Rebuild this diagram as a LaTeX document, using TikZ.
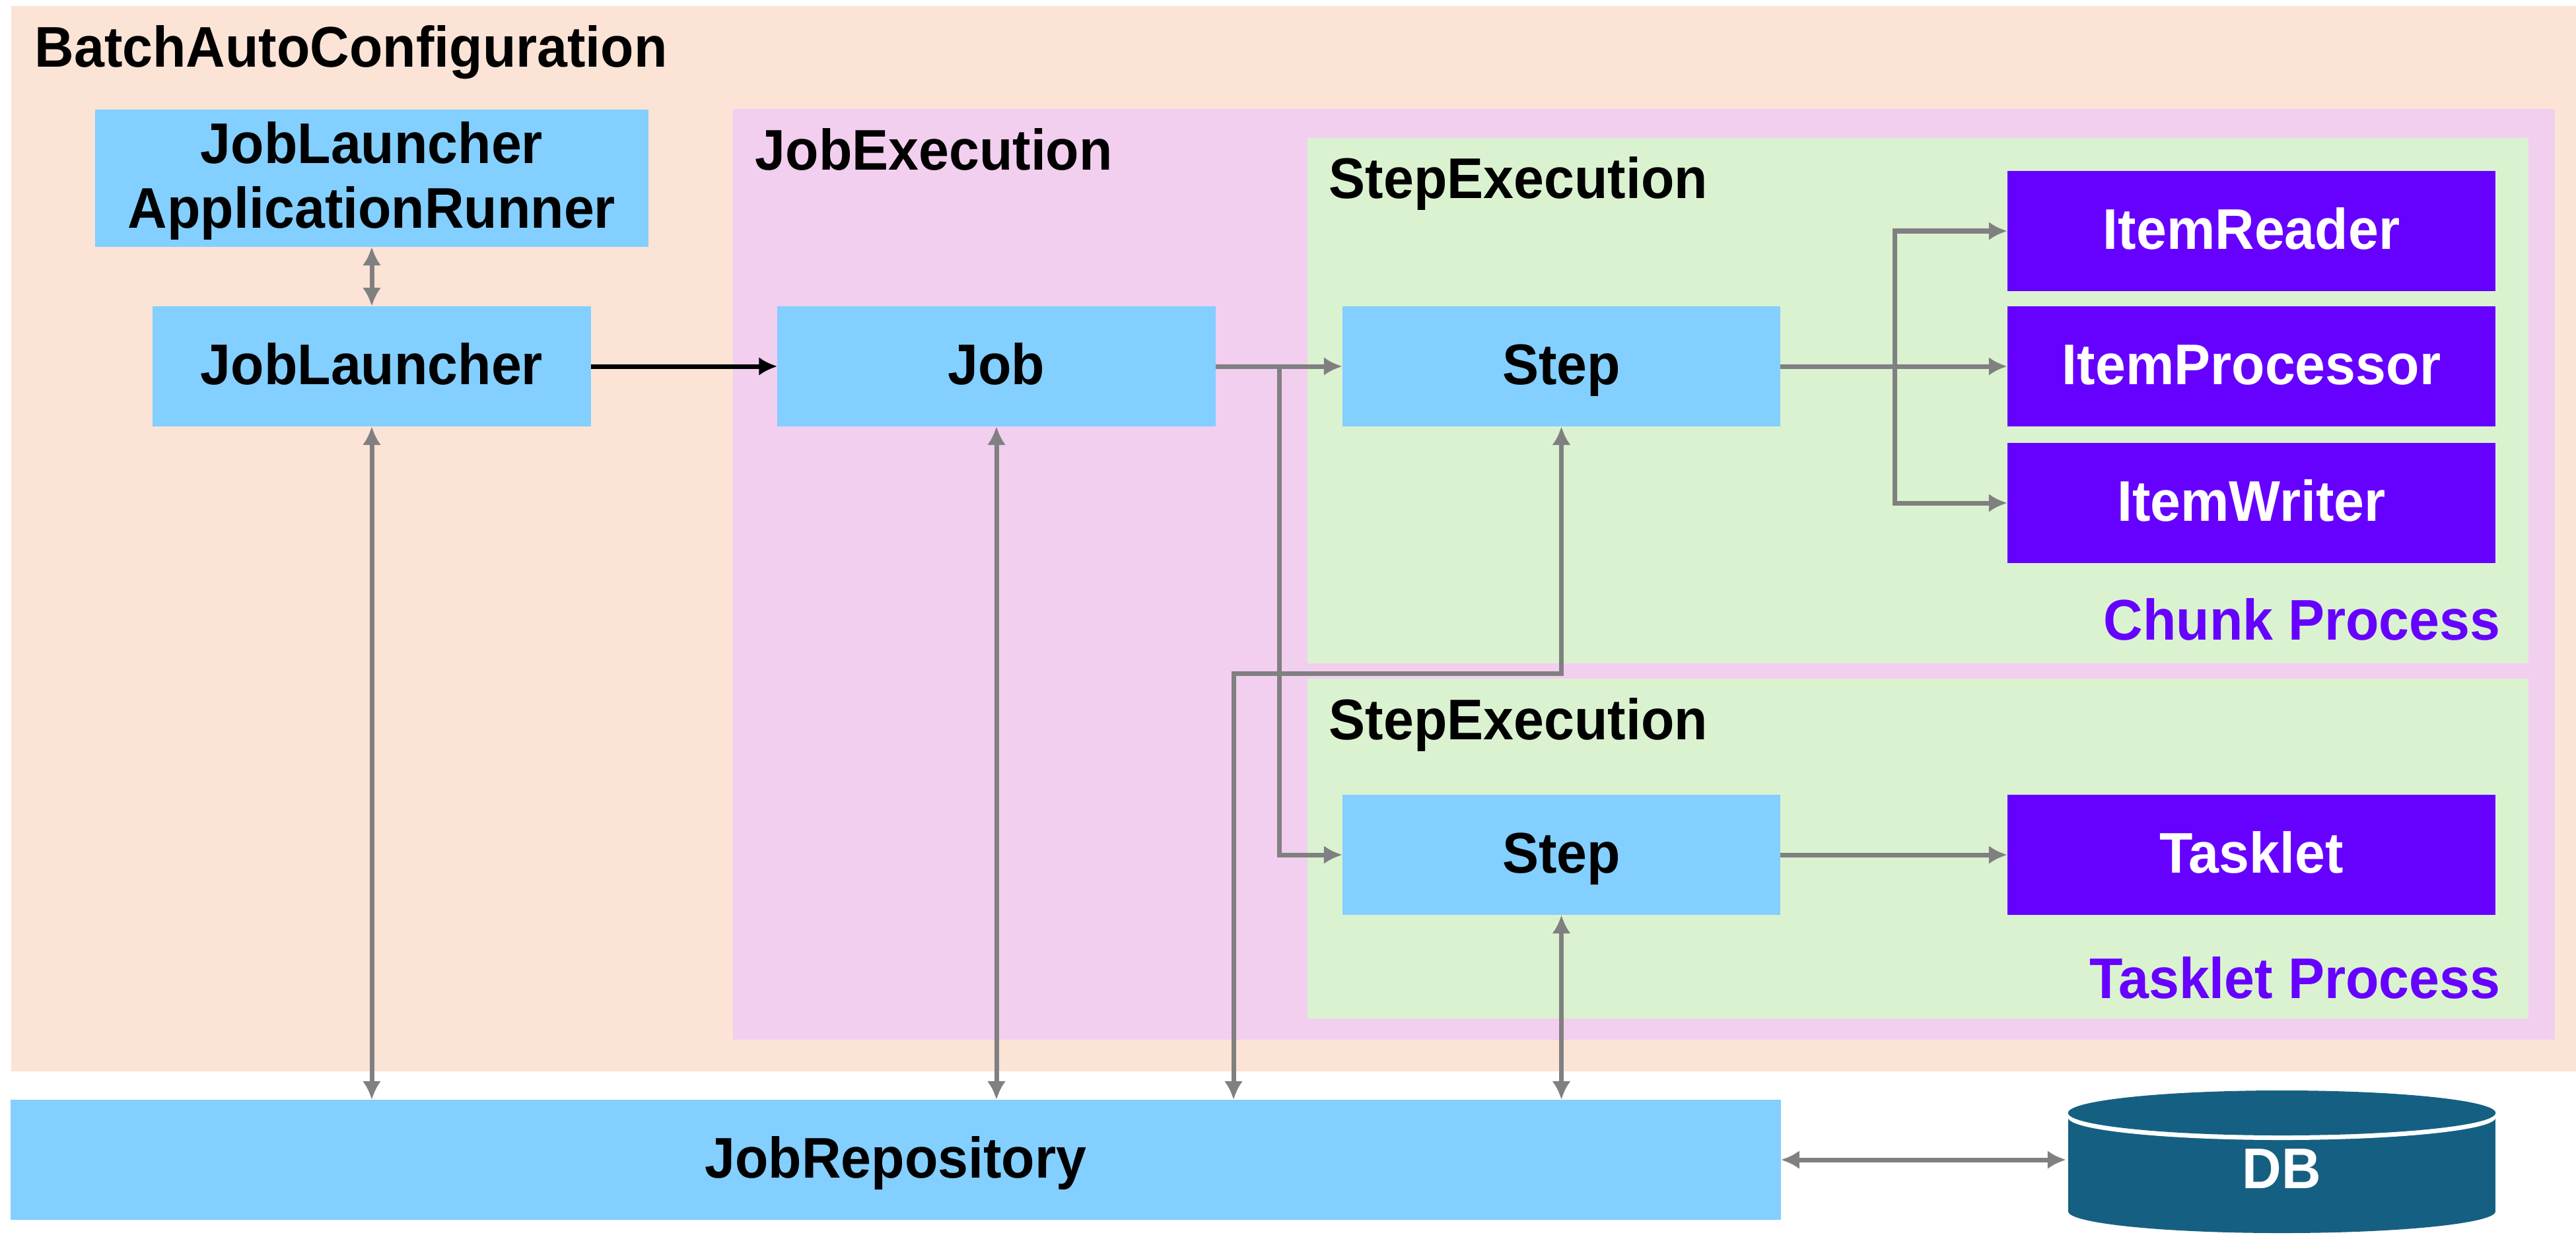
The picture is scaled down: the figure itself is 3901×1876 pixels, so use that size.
\documentclass[tikz,border=0pt]{standalone}
\usepackage{xcolor}
\usepackage{fontspec}
\setmainfont[FakeStretch=0.95]{Liberation Sans}
\usetikzlibrary{arrows.meta, calc}
\definecolor{peachbg}{HTML}{FBE3D6}
\definecolor{pinkbg}{HTML}{F2CEEF}
\definecolor{greenbg}{HTML}{DAF2D0}
\definecolor{boxblue}{HTML}{83CFFF}
\definecolor{boxviolet}{HTML}{6600FF}
\definecolor{dbteal}{HTML}{156082}
\tikzset{
    heading/.style={anchor=base west, inner sep=0pt},
    procname/.style={anchor=base east, inner sep=0pt, text=boxviolet},
    oneline/.style={text height=0.75cm, text depth=0.21cm},
    bluebox/.style={fill=boxblue, inner sep=0pt, outer sep=0pt, minimum width=6.63cm, minimum height=1.82cm, align=center},
    itembox/.style={fill=boxviolet, text=white, inner sep=0pt, outer sep=0pt, minimum width=7.39cm, minimum height=1.82cm, oneline},
    link/.style={draw=gray, line width=0.07cm},
}
\begin{document}
\begin{tikzpicture}[
    x=0.01cm, y=-0.01cm,
    >={Latex[width=2.8mm,length=2.8mm]},
    every node/.style={font=\fontsize{24.7}{28}\selectfont\bfseries},
]
\useasboundingbox (0,0) rectangle (3901,1876);
% nested backgrounds, outer to inner
\fill[peachbg] (17,9) rectangle (3901,1623);
\fill[pinkbg] (1110,165) rectangle (3869,1575);
\fill[greenbg] (1980,209) rectangle (3829,1005);
\fill[greenbg] (1980,1028) rectangle (3829,1543);
\node[heading] (autoconf) at (52,102) {BatchAutoConfiguration};
\node[heading] (jobexec) at (1143,258) {JobExecution};
\node[heading] (execone) at (2012,301) {StepExecution};
\node[heading] (exectwo) at (2012,1120) {StepExecution};
\node[procname] (chunk) at (3787,969) {Chunk Process};
\node[procname] (taskproc) at (3787,1512) {Tasklet Process};
% blue boxes
\node[bluebox, minimum width=8.38cm, minimum height=2.08cm, text depth=0.1cm] (runner) at (563,270) {JobLauncher\\ApplicationRunner};
\node[bluebox, oneline] (launcher) at (563,555) {JobLauncher};
\node[bluebox, oneline] (job) at (1509,555) {Job};
\node[bluebox, oneline] (stepone) at (2364.5,555) {Step};
\node[bluebox, oneline] (steptwo) at (2364.5,1295) {Step};
\node[bluebox, oneline, minimum width=26.79cm] (repo) at (1356.5,1757) {JobRepository};
% violet boxes
\foreach \nm/\yy/\txt in {reader/350/ItemReader,processor/555/ItemProcessor,writer/762/ItemWriter,tasklet/1295/Tasklet}{
    \node[itembox] (\nm) at (3409.5,\yy) {\txt};
}
% database drum
\fill[dbteal] (3132,1693) rectangle (3779,1835);
\fill[dbteal] (3455.5,1835) ellipse (3.235cm and 0.33cm);
\fill[white] (3455.5,1693) ellipse (3.235cm and 0.34cm);
\fill[dbteal] (3455.5,1686) ellipse (3.235cm and 0.34cm);
\node[inner sep=0pt, outer sep=0pt, minimum width=6.53cm, minimum height=1cm] (db) at (3455.5,1757) {};
\node[text=white] (dblabel) at (3455.5,1771) {DB};
% connectors
\draw[->, line width=0.07cm] (launcher) -- (job);
\draw[link, <->] (runner) -- (launcher);
\draw[link, <->] (launcher) -- (launcher |- repo.north);
\draw[link, <->] (job) -- (job |- repo.north);
\draw[link, <->] (steptwo) -- (steptwo |- repo.north);
\draw[link, <->] (repo) -- (db);
\draw[link, ->] (job) -- (stepone);
\coordinate (jobfork) at (1937,555);
\draw[link, ->] (jobfork) |- (steptwo);
\coordinate (riser) at (1868,1020);
\draw[link, <->] (riser |- repo.north) -- (riser) -- (riser -| stepone.south) -- (stepone);
\draw[link, ->] (stepone) -- (processor);
\coordinate (itemfork) at (2869,555);
\draw[link, ->] (itemfork) |- (reader);
\draw[link, ->] (itemfork) |- (writer);
\draw[link, ->] (steptwo) -- (tasklet);
\end{tikzpicture}
\end{document}
